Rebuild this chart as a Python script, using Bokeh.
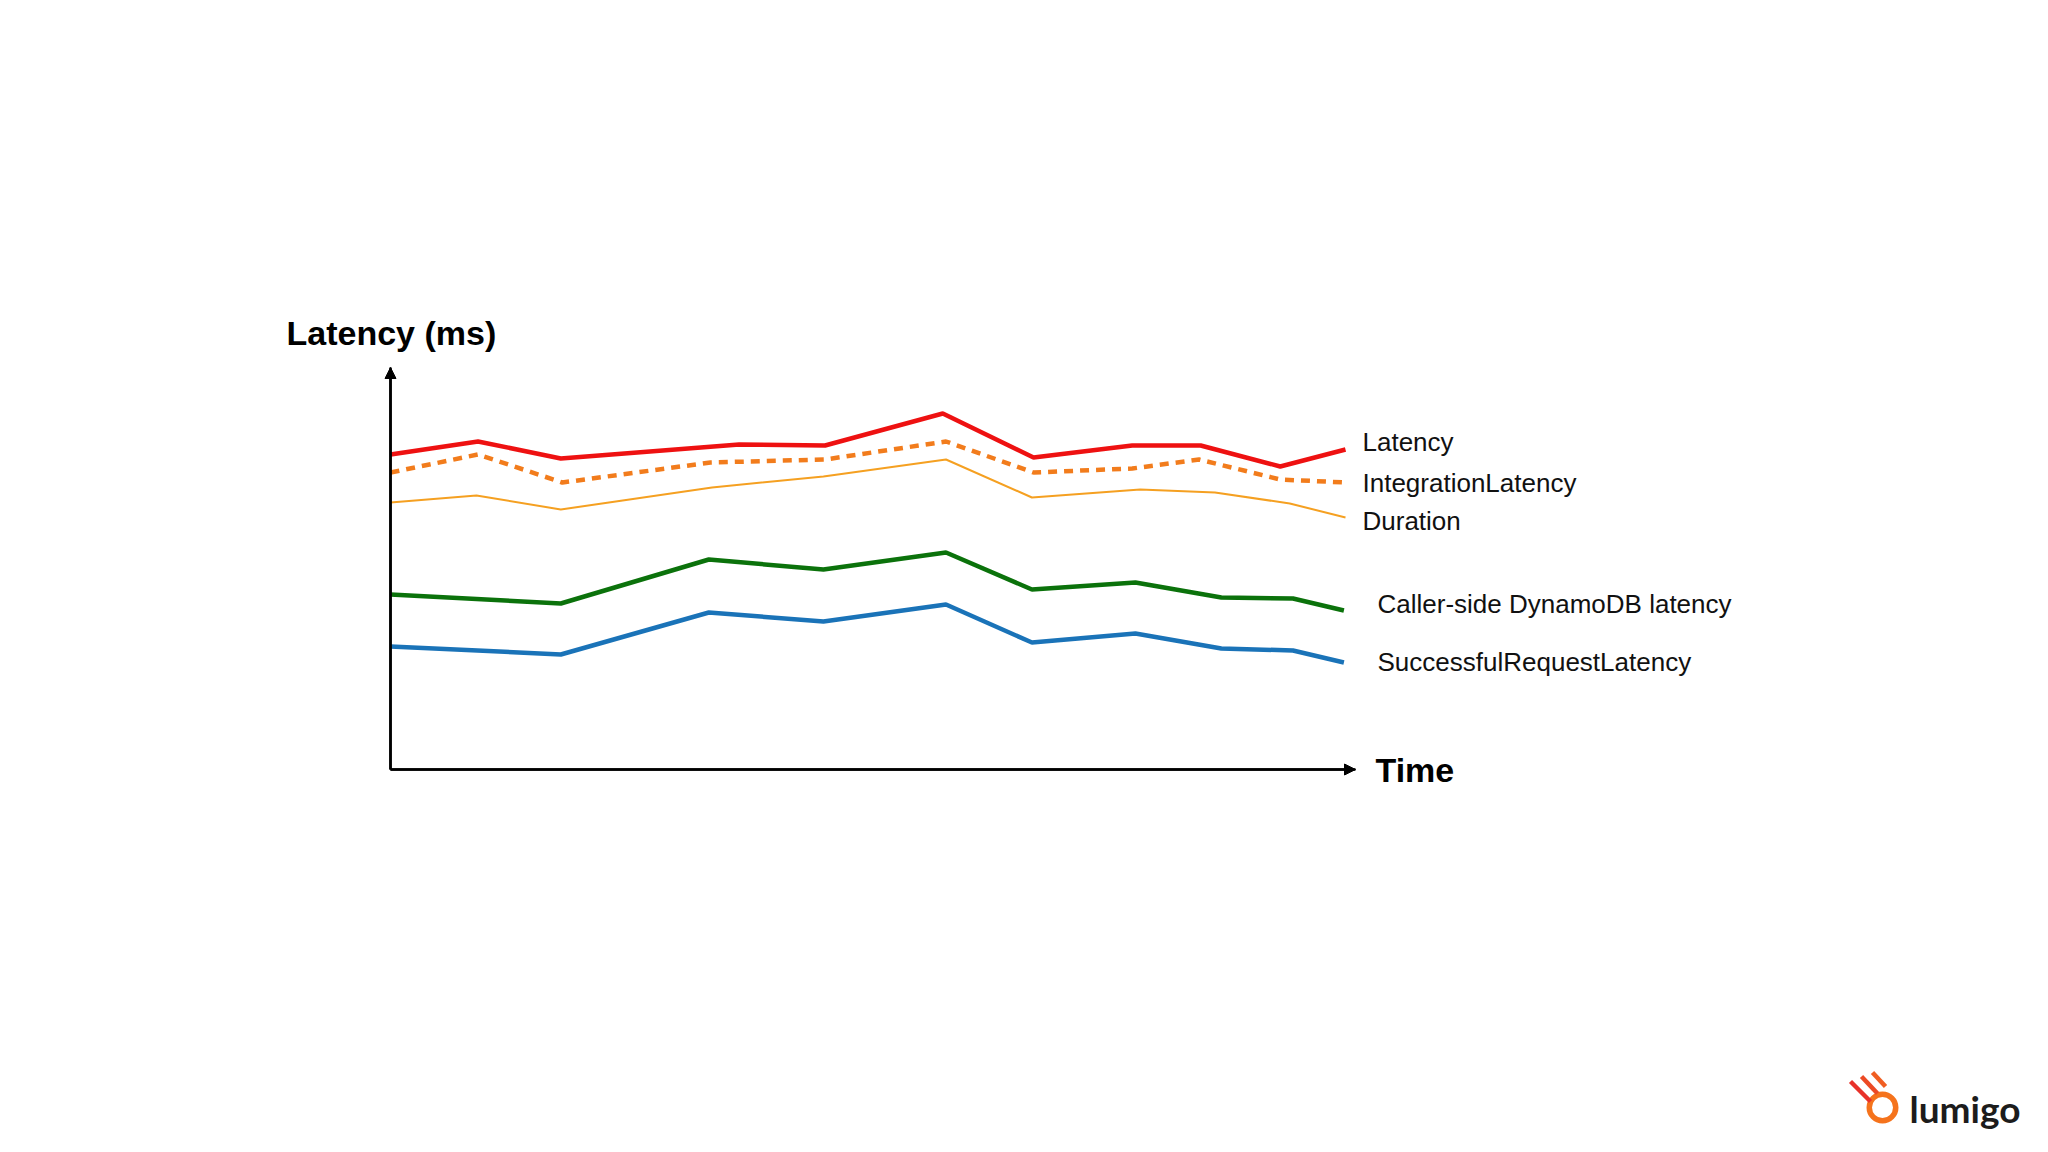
from bokeh.plotting import figure
from bokeh.models import Range1d, Arrow, NormalHead, FixedTicker
from bokeh.embed import file_html
from bokeh.resources import INLINE
from bokeh.core.properties import value

# ---------------- data (time in minutes, latency in ms) ----------------
latency_t = [0, 5.5, 10.7, 21.9, 27.3, 34.7, 40.4, 46.6, 50.9, 55.9, 60.0]
latency_ms = [78.75, 82.0, 77.75, 81.25, 81.0, 89.0, 78.0, 81.0, 81.0, 75.75, 80.0]

integration_t = [0, 5.5, 10.8, 20.1, 27.3, 34.9, 40.4, 46.6, 50.8, 55.9, 60.0]
integration_ms = [74.25, 78.75, 71.75, 76.75, 77.5, 82.0, 74.25, 75.25, 77.5, 72.5, 71.75]

duration_t = [0, 5.4, 10.7, 20.2, 27.2, 34.9, 40.3, 47.1, 51.8, 56.5, 60.0]
duration_ms = [66.75, 68.5, 65.0, 70.5, 73.25, 77.5, 68.0, 70.0, 69.25, 66.5, 63.0]

dynamo_t = [0, 10.7, 20.0, 27.2, 34.9, 40.3, 46.8, 52.2, 56.7, 59.9]
dynamo_ms = [43.75, 41.5, 52.5, 50.0, 54.25, 45.0, 46.75, 43.0, 42.75, 39.75]

success_t = [0, 10.7, 20.0, 27.2, 34.9, 40.3, 46.8, 52.2, 56.7, 59.9]
success_ms = [30.75, 28.75, 39.25, 37.0, 41.25, 31.75, 34.0, 30.25, 29.75, 26.75]

series_names = ["Latency", "IntegrationLatency", "Duration",
                "Caller-side DynamoDB latency", "SuccessfulRequestLatency"]
y_title = "Latency (ms)"
x_title = "Time"
brand = "lumigo"

# ---------------- layout ----------------
W, H = 2032, 1136
CANVAS_X0, CANVAS_Y0 = 0, 0  # page position of the canvas corner (measured)
OX, OY = 390, 769            # page position of the origin
PPX = 955 / 60.0             # pixels per minute
PPY = 4.0                    # pixels per ms


def dx(px):
    return (px - OX) / PPX


def dy(py):
    return (OY - py) / PPY


p = figure(width=W, height=H,
           x_range=Range1d(dx(CANVAS_X0), dx(CANVAS_X0 + W)),
           y_range=Range1d(dy(CANVAS_Y0 + H), dy(CANVAS_Y0)),
           output_backend="svg", toolbar_location=None,
           min_border=0, outline_line_color=None,
           background_fill_color="white", border_fill_color="white")
p.grid.visible = False

# axes drawn through the origin
for ax in (p.xaxis, p.yaxis):
    ax.fixed_location = 0
    ax.ticker = FixedTicker(ticks=[])
    ax.major_tick_line_color = None
    ax.minor_tick_line_color = None
    ax.axis_line_color = "black"
    ax.axis_line_width = 2.5
x_tip = dx(1355)
y_tip = dy(367)
p.xaxis.bounds = (0, x_tip)
p.yaxis.bounds = (0, y_tip)

p.add_layout(Arrow(end=NormalHead(size=11, fill_color="black", line_color="black", line_width=1),
                   x_start=0, y_start=0, x_end=x_tip, y_end=0,
                   line_color="black", line_width=2.5))
p.add_layout(Arrow(end=NormalHead(size=11, fill_color="black", line_color="black", line_width=1),
                   x_start=0, y_start=0, x_end=0, y_end=y_tip,
                   line_color="black", line_width=2.5))

# ---------------- series ----------------
p.line(success_t, success_ms, line_color="#1a73b8", line_width=4.5)
p.line(dynamo_t, dynamo_ms, line_color="#0b720b", line_width=4.5)
p.line(duration_t, duration_ms, line_color="#f5a021", line_width=2)
p.line(integration_t, integration_ms, line_color="#f27c1c", line_width=4.5,
       line_dash="9 7")
p.line(latency_t, latency_ms, line_color="#ee1111", line_width=4.5)

# ---------------- texts ----------------
FONT = value("Liberation Sans")
label_pos = [(1362, 441), (1362, 482), (1362, 520), (1377, 603), (1377, 661)]
p.text(x=[dx(a) for a, b in label_pos], y=[dy(b) for a, b in label_pos],
       text=series_names, text_font=FONT, text_font_size="26px",
       text_color="#111111", text_align="left", text_baseline="middle")

p.text(x=[dx(286)], y=[dy(332)], text=[y_title], text_font=FONT,
       text_font_size="34px", text_font_style="bold", text_color="black",
       text_align="left", text_baseline="middle")
p.text(x=[dx(1375)], y=[dy(769)], text=[x_title], text_font=FONT,
       text_font_size="34px", text_font_style="bold", text_color="black",
       text_align="left", text_baseline="middle")

# ---------------- logo ----------------
p.annulus(x=[dx(1882)], y=[dy(1107)], inner_radius=10.5, outer_radius=16,
          inner_radius_units="screen", outer_radius_units="screen",
          fill_color="#f5731c", line_color=None)
arm_x0 = [dx(1850), dx(1861), dx(1872)]
arm_y0 = [dy(1081), dy(1076), dy(1072)]
arm_x1 = [dx(1870), dx(1877), dx(1885)]
arm_y1 = [dy(1101), dy(1093), dy(1086)]
p.segment(arm_x0, arm_y0, arm_x1, arm_y1,
          line_color=["#e8322a", "#ec4a25", "#f05e22"], line_width=4.5)
p.text(x=[dx(1909)], y=[dy(1108)], text=[brand], text_font=value("Lato"),
       text_font_size="37px", text_font_style="bold", text_color="#1c1c1c",
       text_align="left", text_baseline="middle")

open("out.html", "w").write(file_html(p, INLINE))
